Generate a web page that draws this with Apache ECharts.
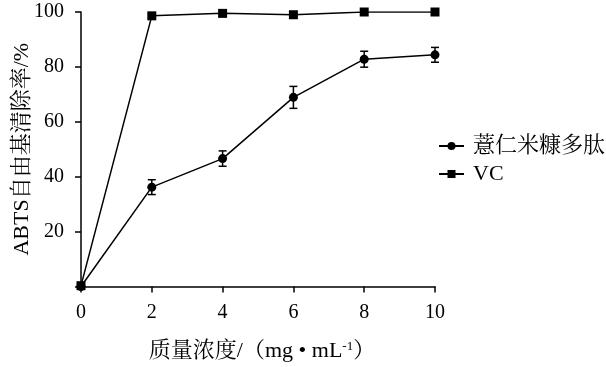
<!DOCTYPE html>
<html>
<head>
<meta charset="utf-8">
<script src="https://cdn.jsdelivr.net/npm/echarts@6/dist/echarts.min.js"></script>
<style>html,body{margin:0;padding:0;background:#fff;}#c{width:606px;height:367px;}</style>
</head>
<body>
<div id="c"></div>
<script>
var concentrations = [0, 2, 4, 6, 8, 10];
var peptideValues = [0, 36.2, 46.6, 68.9, 82.8, 84.4];
var peptideErrors = [0, 2.7, 2.8, 4.0, 2.9, 2.7];
var vcValues = [0.3, 98.6, 99.5, 99.0, 100, 100];
var seriesNames = ['薏仁米糠多肽', 'VC'];
var yTicks = [0, 20, 40, 60, 80, 100];
var xTicks = [0, 2, 4, 6, 8, 10];

var FONT = '"Liberation Serif", "Times New Roman", "Noto Serif CJK SC", "Noto Sans CJK SC", serif';

function pairs(xs, ys) { return xs.map(function (x, i) { return [x, ys[i]]; }); }
var errData = concentrations.map(function (x, i) { return [x, peptideValues[i], peptideErrors[i]]; })
  .filter(function (d) { return d[2] > 0; });

var chart = echarts.init(document.getElementById('c'), null, {renderer: 'canvas'});
chart.setOption({
  animation: false,
  backgroundColor: '#fff',
  grid: {left: 81, right: 171, top: 12, bottom: 80.5, containLabel: false, outerBoundsMode: 'none'},
  xAxis: {
    type: 'value', min: xTicks[0], max: xTicks[xTicks.length - 1], interval: 2,
    name: '质量浓度/（mg • mL{sup|-1}）', nameLocation: 'middle', nameGap: 54, nameMoveOverlap: false,
    nameTextStyle: {fontFamily: FONT, fontSize: 22, color: '#000', padding: [0, 0, 0, 8],
      rich: {sup: {fontFamily: FONT, fontSize: 13, color: '#000', verticalAlign: 'top', padding: [0, 0, 9, 0]}}},
    axisLine: {show: true, lineStyle: {color: '#000', width: 1.5}},
    axisTick: {show: true, inside: false, length: 6, lineStyle: {color: '#000', width: 1.5}},
    axisLabel: {fontFamily: FONT, fontSize: 20, color: '#000', margin: 16},
    splitLine: {show: false}
  },
  yAxis: {
    type: 'value', min: yTicks[0], max: yTicks[yTicks.length - 1], interval: 20,
    name: 'ABTS自由基清除率/%', nameLocation: 'middle', nameGap: 48, nameMoveOverlap: false,
    nameTextStyle: {fontFamily: FONT, fontSize: 22, color: '#000'},
    axisLine: {show: true, lineStyle: {color: '#000', width: 1.5}},
    axisTick: {show: true, inside: false, length: 6, lineStyle: {color: '#000', width: 1.5}},
    axisLabel: {fontFamily: FONT, fontSize: 20, color: '#000', margin: 17,
      formatter: function (v) { return v === 0 ? '' : String(v); }},
    splitLine: {show: false}
  },
  legend: {
    orient: 'vertical', left: 433, top: 130, itemWidth: 25, itemHeight: 10, itemGap: 6,
    data: seriesNames,
    textStyle: {fontFamily: FONT, fontSize: 22, color: '#000', padding: [0, 0, 0, 4]}
  },
  series: [
    {
      name: seriesNames[0], type: 'line', data: pairs(concentrations, peptideValues),
      symbol: 'circle', symbolSize: 9, z: 3,
      lineStyle: {color: '#000', width: 1.5}, itemStyle: {color: '#000'}
    },
    {
      name: seriesNames[1], type: 'line', data: pairs(concentrations, vcValues),
      symbol: 'rect', symbolSize: 9, z: 3,
      lineStyle: {color: '#000', width: 1.5}, itemStyle: {color: '#000'}
    },
    {
      name: 'err', type: 'custom', data: errData, z: 4,
      renderItem: function (params, api) {
        var x = api.value(0), y = api.value(1), e = api.value(2);
        var hi = api.coord([x, y + e]), lo = api.coord([x, y - e]);
        var w = 4;
        var st = {stroke: '#000', lineWidth: 1.5};
        return {type: 'group', children: [
          {type: 'line', shape: {x1: hi[0], y1: hi[1], x2: lo[0], y2: lo[1]}, style: st},
          {type: 'line', shape: {x1: hi[0] - w, y1: hi[1], x2: hi[0] + w, y2: hi[1]}, style: st},
          {type: 'line', shape: {x1: lo[0] - w, y1: lo[1], x2: lo[0] + w, y2: lo[1]}, style: st}
        ]};
      }
    }
  ]
});
</script>
</body>
</html>
